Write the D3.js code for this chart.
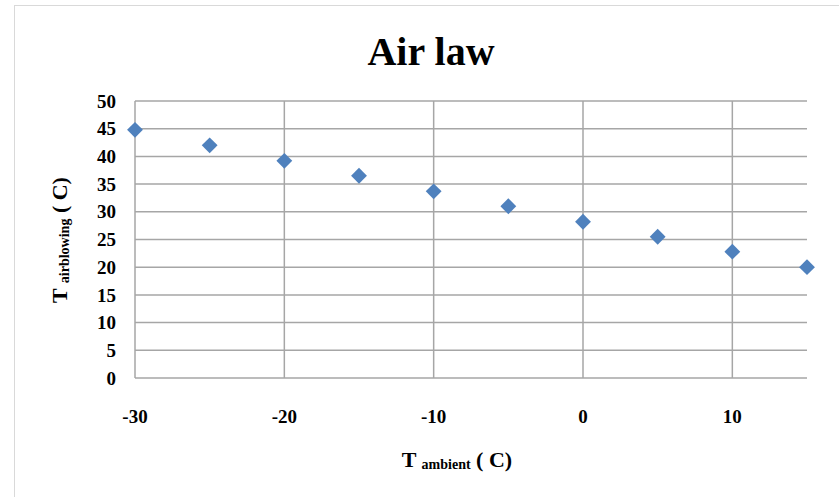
<!DOCTYPE html>
<html>
<head>
<meta charset="utf-8">
<script src="https://cdn.jsdelivr.net/npm/d3@7"></script>
<style>
  body { margin: 0; background: #fff; }
  text { font-family: "Liberation Serif", "Times New Roman", serif; font-weight: bold; fill: #000; }
</style>
</head>
<body>
<svg id="chart" width="839" height="497"></svg>
<script>
const ambient = [-30, -25, -20, -15, -10, -5, 0, 5, 10, 15];
const airblowing = [44.8, 42, 39.2, 36.5, 33.7, 31, 28.2, 25.5, 22.8, 20];
const xTicks = [-30, -20, -10, 0, 10];
const yTicks = [0, 5, 10, 15, 20, 25, 30, 35, 40, 45, 50];

const svg = d3.select('#chart');
const margin = { left: 135, right: 32, top: 101, bottom: 119 };
const width = 839, height = 497;

// faint chart border
svg.append('rect')
    .attr('x', 14.5).attr('y', 5.5)
    .attr('width', width).attr('height', height)
    .attr('fill', 'none')
    .attr('stroke', '#d9d9d9');

const x = d3.scaleLinear().domain([-30, 15]).range([margin.left, width - margin.right]);
const y = d3.scaleLinear().domain([0, 50]).range([height - margin.bottom, margin.top]);

const grid = svg.append('g').attr('stroke', '#a6a6a6').attr('stroke-width', 1.5);

grid.selectAll('line.h')
    .data(yTicks)
    .join('line')
    .attr('class', 'h')
    .attr('x1', x(-30)).attr('x2', x(15))
    .attr('y1', d => y(d)).attr('y2', d => y(d));

grid.selectAll('line.v')
    .data(xTicks)
    .join('line')
    .attr('class', 'v')
    .attr('x1', d => x(d)).attr('x2', d => x(d))
    .attr('y1', y(0)).attr('y2', y(50));

// y tick labels
svg.append('g')
    .selectAll('text')
    .data(yTicks)
    .join('text')
    .attr('x', x(-30) - 19)
    .attr('y', d => y(d))
    .attr('dy', '0.35em')
    .attr('text-anchor', 'end')
    .attr('font-size', 19)
    .text(d => d);

// x tick labels
svg.append('g')
    .selectAll('text')
    .data(xTicks)
    .join('text')
    .attr('x', d => x(d))
    .attr('y', 423)
    .attr('text-anchor', 'middle')
    .attr('font-size', 19)
    .text(d => d);

// markers
const diamond = d3.symbol().type(d3.symbolDiamond2).size(160);
svg.append('g')
    .selectAll('path')
    .data(ambient.map((a, i) => [a, airblowing[i]]))
    .join('path')
    .attr('d', diamond)
    .attr('transform', d => `translate(${x(d[0])},${y(d[1])})`)
    .attr('fill', '#4f81bd');

// title
svg.append('text')
    .attr('x', 431).attr('y', 65)
    .attr('text-anchor', 'middle')
    .attr('font-size', 40)
    .text('Air law');

// x axis title
const xt = svg.append('text')
    .attr('x', 457).attr('y', 467)
    .attr('text-anchor', 'middle')
    .attr('font-size', 22);
xt.append('tspan').text('T ');
xt.append('tspan').attr('font-size', 14).attr('dy', 2).text('ambient');
xt.append('tspan').attr('dy', -2).text(' ( C)');

// y axis title
const yt = svg.append('text')
    .attr('transform', 'translate(67,240) rotate(-90)')
    .attr('text-anchor', 'middle')
    .attr('font-size', 22);
yt.append('tspan').text('T ');
yt.append('tspan').attr('font-size', 14).attr('dy', 2).text('airblowing');
yt.append('tspan').attr('dy', -2).text(' ( C)');
</script>
</body>
</html>
